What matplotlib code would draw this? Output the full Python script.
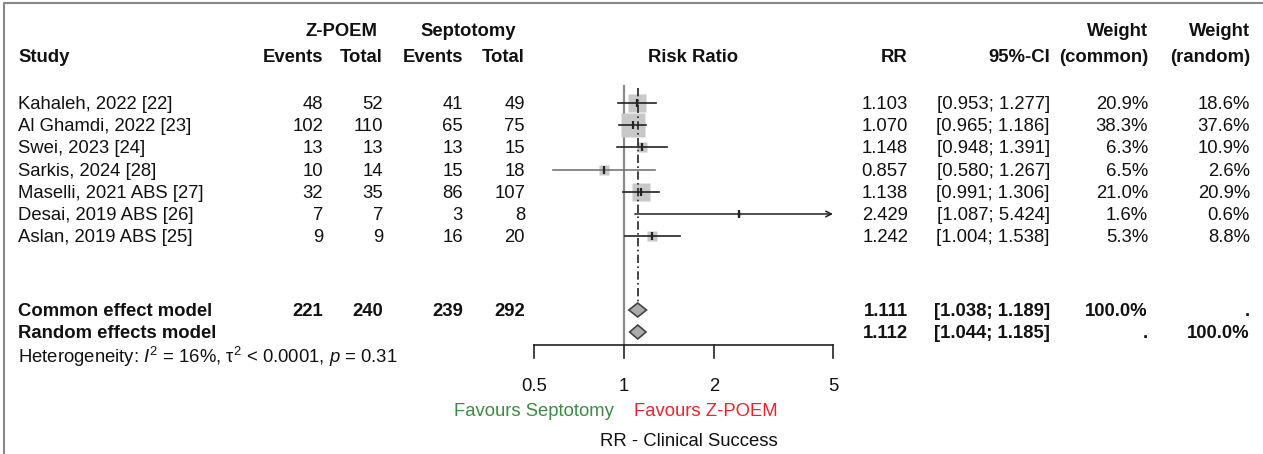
import numpy as np
import matplotlib
matplotlib.use("Agg")
import matplotlib.pyplot as plt
from matplotlib.patches import Polygon

plt.rcParams['font.family'] = ['Liberation Sans', 'DejaVu Sans']
plt.rcParams['mathtext.fontset'] = 'custom'
plt.rcParams['mathtext.rm'] = 'Liberation Sans'
plt.rcParams['mathtext.it'] = 'Liberation Sans:italic'

# data
studies = ["Kahaleh, 2022 [22]", "Al Ghamdi, 2022 [23]", "Swei, 2023 [24]", "Sarkis, 2024 [28]",
           "Maselli, 2021 ABS [27]", "Desai, 2019 ABS [26]", "Aslan, 2019 ABS [25]"]
zp_events = [48, 102, 13, 10, 32, 7, 9]
zp_total = [52, 110, 13, 14, 35, 7, 9]
sp_events = [41, 65, 13, 15, 86, 3, 16]
sp_total = [49, 75, 15, 18, 107, 8, 20]
rr = [1.103, 1.070, 1.148, 0.857, 1.138, 2.429, 1.242]
ci_lo = [0.953, 0.965, 0.948, 0.580, 0.991, 1.087, 1.004]
ci_hi = [1.277, 1.186, 1.391, 1.267, 1.306, 5.424, 1.538]
w_common = [20.9, 38.3, 6.3, 6.5, 21.0, 1.6, 5.3]
w_random = [18.6, 37.6, 10.9, 2.6, 20.9, 0.6, 8.8]

common = dict(name="Common effect model", rr=1.111, lo=1.038, hi=1.189,
              totals=[221, 240, 239, 292], wc="100.0%", wr=".")
random_ = dict(name="Random effects model", rr=1.112, lo=1.044, hi=1.185,
               wc=".", wr="100.0%")
het = r"Heterogeneity: $I^2$ = 16%, τ$^2$ < 0.0001, $p$ = 0.31"
ticks = [0.5, 1, 2, 5]

W, H = 1263, 454
fig = plt.figure(figsize=(W / 100, H / 100), dpi=100)
ax = fig.add_axes([0, 0, 1, 1])
ax.set_xlim(0, W)
ax.set_ylim(H, 0)
ax.axis('off')

x0, x1 = 534, 833
fx = fig.add_axes([x0 / W, 0, (x1 - x0) / W, 1])
fx.set_xscale('log')
fx.set_xlim(0.5, 5)
fx.set_ylim(H, 0)
fx.axis('off')
fx.patch.set_alpha(0)

tc = '#111111'
fs = 13.3
dy = 1.5  # text sits a touch low vs. centre


def txt(x, y, s, **kw):
    kw.setdefault('va', 'center')
    kw.setdefault('fontsize', fs)
    kw.setdefault('color', tc)
    ax.text(x, y + dy, s, **kw)


# frame
ax.plot([4, 4, W], [H, 3, 3], color='#888888', lw=1.5, clip_on=False)

# column headers
txt(341, 30, "Z-POEM", ha='center', weight='bold')
txt(468, 30, "Septotomy", ha='center', weight='bold')
txt(1148, 30, "Weight", ha='right', weight='bold')
txt(1250, 30, "Weight", ha='right', weight='bold')
hy = 56
txt(18, hy, "Study", ha='left', weight='bold')
for xr, s in [(323, "Events"), (383, "Total"), (463, "Events"), (525, "Total"),
              (908, "RR"), (1050, "95%-CI"), (1148, "(common)"), (1250, "(random)")]:
    txt(xr, hy, s, ha='right', weight='bold')
txt(693, hy, "Risk Ratio", ha='center', weight='bold')

# study rows
ys = 103 + 22.2 * np.arange(len(studies))
for i, y in enumerate(ys):
    txt(18, y, studies[i], ha='left')
    for xr, v in [(323, zp_events[i]), (383, zp_total[i]), (463, sp_events[i]), (525, sp_total[i])]:
        txt(xr, y, str(v), ha='right')
    txt(908, y, f"{rr[i]:.3f}", ha='right')
    txt(1050, y, f"[{ci_lo[i]:.3f}; {ci_hi[i]:.3f}]", ha='right')
    txt(1148, y, f"{w_common[i]:.1f}%", ha='right')
    txt(1250, y, f"{w_random[i]:.1f}%", ha='right')

# summary rows
yc, yr = 310, 332
for y, d in [(yc, common), (yr, random_)]:
    txt(18, y, d["name"], ha='left', weight='bold')
    txt(908, y, f"{d['rr']:.3f}", ha='right', weight='bold')
    txt(1050, y, f"[{d['lo']:.3f}; {d['hi']:.3f}]", ha='right', weight='bold')
    txt(1148, y, d["wc"], ha='right', weight='bold')
    txt(1250, y, d["wr"], ha='right', weight='bold')
for xr, v in zip([323, 383, 463, 525], common["totals"]):
    txt(xr, yc, str(v), ha='right', weight='bold')
txt(18, 355, het, ha='left')

# forest panel
fx.plot([1, 1], [86, 345], color='#8a8a8a', lw=1.6, zorder=1)
fx.plot([common["rr"]] * 2, [88, 302], color='#222222', lw=1.2, ls=(0, (5, 2, 1, 2)), zorder=4)

wmax = max(w_common)
for i, y in enumerate(ys):
    ms = 17.5 * np.sqrt(w_common[i] / wmax)
    fx.plot(rr[i], y, marker='s', ms=ms, color='#c8c8c8', mec='none', zorder=2)
    lc = '#777777' if i == 3 else '#222222'
    if ci_hi[i] > 5:
        fx.annotate("", xy=(5, y), xytext=(ci_lo[i], y),
                    arrowprops=dict(arrowstyle='->', color=lc, lw=1.1, shrinkA=0, shrinkB=0))
    else:
        fx.plot([ci_lo[i], ci_hi[i]], [y, y], color=lc, lw=1.2, zorder=3)
    fx.plot(rr[i], y, marker='|', ms=6, mew=1.6, color='#222222', zorder=5)

for y, d in [(yc, common), (yr, random_)]:
    fx.add_patch(Polygon([(d["lo"], y), (d["rr"], y - 7), (d["hi"], y), (d["rr"], y + 7)],
                         closed=True, fc='#ababab', ec='#444444', lw=1.2, zorder=6))

# x axis
fx.plot([0.5, 5], [345, 345], color='#222222', lw=1.2, clip_on=False)
for t in ticks:
    fx.plot([t, t], [345, 358], color='#222222', lw=1.2, clip_on=False)
    fx.text(t, 385 + dy, f"{t:g}", ha='center', va='center', fontsize=fs, color=tc, clip_on=False)

txt(614, 410, "Favours Septotomy", ha='right', color='#3d8a45')
txt(634, 410, "Favours Z-POEM", ha='left', color='#e8262e')
txt(689, 440, "RR - Clinical Success", ha='center')

fig.savefig("out.png", dpi=100)
